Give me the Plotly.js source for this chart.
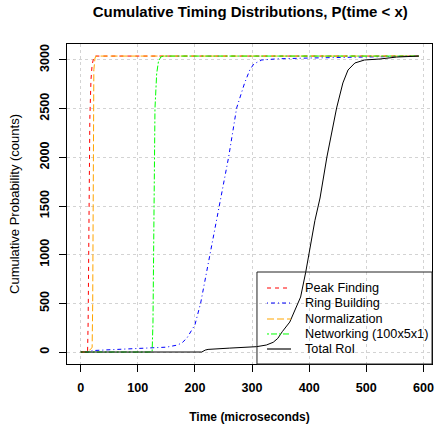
<!DOCTYPE html>
<html>
<head>
<meta charset="utf-8">
<script src="https://cdn.plot.ly/plotly-3.0.1.min.js"></script>
<style>html,body{margin:0;padding:0;background:#fff;}#chart{width:436px;height:424px;}</style>
</head>
<body>
<div id="chart"></div>
<script>
var seriesNames = ["Peak Finding", "Ring Building", "Normalization", "Networking (100x5x1)", "Total RoI"];
var seriesColors = ["#FF0000", "#0000FF", "#FFA500", "#00FF00", "#000000"];
var seriesDashes = ["4px,4px", "1px,3px,4px,3px", "7px,3px", "2px,2px,6px,2px", "solid"];

var peakX = [0, 12, 13, 14, 15, 16, 18, 20, 23, 25, 592];
var peakY = [0, 0, 300, 1000, 1800, 2400, 2800, 2950, 3030, 3040, 3040];

var ringX = [0, 15, 20, 60, 100, 126, 150, 168, 177, 186, 200, 210, 226, 243, 259, 273, 287, 296, 303, 317, 345, 400, 500, 592];
var ringY = [0, 0, 15, 25, 32, 40, 50, 70, 92, 144, 280, 503, 997, 1500, 2003, 2507, 2764, 2897, 2959, 3000, 3012, 3020, 3030, 3040];

var normX = [0, 14, 17, 20, 21, 21.5, 22, 23, 25, 27, 592];
var normY = [0, 0, 30, 45, 500, 1500, 2500, 2900, 3020, 3040, 3040];

var netX = [0, 125, 126.5, 127.5, 128.5, 130, 133, 136, 140, 145, 592];
var netY = [0, 0, 300, 1000, 2000, 2500, 2860, 2980, 3030, 3040, 3040];

var totalX = [0, 212, 218, 223, 260, 308, 325, 337, 345, 353, 366, 385, 394, 401, 410, 419, 431, 448, 459, 468, 480, 497, 524, 553, 592];
var totalY = [0, 0, 20, 27, 40, 55, 72, 100, 140, 210, 308, 565, 822, 1048, 1350, 1582, 2003, 2507, 2764, 2897, 2969, 3000, 3010, 3030, 3040];

var xTicks = [0, 100, 200, 300, 400, 500, 600];
var yTicks = [0, 500, 1000, 1500, 2000, 2500, 3000];

var FONT = "Liberation Sans, Arial, sans-serif";

var allX = [peakX, ringX, normX, netX, totalX];
var allY = [peakY, ringY, normY, netY, totalY];

var traces = seriesNames.map(function (name, i) {
  return {x: allX[i], y: allY[i], name: name, mode: "lines", showlegend: false,
          line: {color: seriesColors[i], width: 1, dash: seriesDashes[i]}};
});

// Hand-built legend box (R-style, transparent background)
var legendBox = {x0: 0.5205, x1: 1.0, y0: 0.0, y1: 0.2875};
var legendRowY = [0.2375, 0.1906, 0.1406, 0.0938, 0.0469];
var sampleX0 = 0.548, sampleX1 = 0.6137, textX = 0.6466;

var shapes = [{type: "rect", xref: "paper", yref: "paper", x0: legendBox.x0, x1: legendBox.x1, y0: legendBox.y0, y1: legendBox.y1,
  line: {color: "#222", width: 1}, fillcolor: "rgba(0,0,0,0)", layer: "above"}];
var annotations = [];
seriesNames.forEach(function (name, i) {
  var isTotal = (i === 4);
  shapes.push({type: "line", xref: "paper", yref: "paper", x0: sampleX0, x1: sampleX1, y0: legendRowY[i], y1: legendRowY[i],
    line: {color: isTotal ? "#6e6e6e" : seriesColors[i], width: isTotal ? 2 : 1, dash: seriesDashes[i]}, layer: "above"});
  annotations.push({xref: "paper", yref: "paper", x: textX, y: legendRowY[i], xanchor: "left", yanchor: "middle",
    text: name, showarrow: false, font: {family: FONT, size: 12.7, color: "#000"}});
});

var layout = {
  width: 436, height: 424,
  margin: {l: 67, r: 4, t: 44, b: 60},
  paper_bgcolor: "#ffffff", plot_bgcolor: "#ffffff",
  font: {family: FONT, size: 12.7, color: "#000"},
  title: {text: "Cumulative Timing Distributions, P(time < x)", font: {family: FONT, size: 15, weight: 700, color: "#000"}, x: 0.574, xanchor: "center", y: 0.972, yanchor: "middle"},
  xaxis: {
    range: [-24, 615], tickvals: xTicks, ticktext: xTicks.map(String),
    ticks: "outside", ticklen: 7, tickcolor: "#000", tickwidth: 1, ticklabelstandoff: 5,
    showline: true, mirror: true, linecolor: "#000", linewidth: 1,
    showgrid: true, gridcolor: "#d3d3d3", griddash: "dot", gridwidth: 1,
    zeroline: false,
    tickfont: {family: FONT, size: 12.6, weight: 700},
    title: {text: "Time (microseconds)", font: {family: FONT, size: 12, weight: 700}, standoff: 30}
  },
  yaxis: {
    range: [-123, 3164], tickvals: yTicks, ticktext: yTicks.map(String),
    ticks: "outside", ticklen: 7, tickcolor: "#000", tickwidth: 1, tickangle: -90, ticklabelstandoff: 5,
    showline: true, mirror: true, linecolor: "#000", linewidth: 1,
    showgrid: true, gridcolor: "#d3d3d3", griddash: "dot", gridwidth: 1,
    zeroline: false,
    tickfont: {family: FONT, size: 12.6, weight: 700},
    title: {text: "Cumulative Probability (counts)", font: {family: FONT, size: 13}, standoff: 15}
  },
  showlegend: false,
  shapes: shapes,
  annotations: annotations
};

Plotly.newPlot("chart", traces, layout, {displayModeBar: false, staticPlot: true});
</script>
</body>
</html>
